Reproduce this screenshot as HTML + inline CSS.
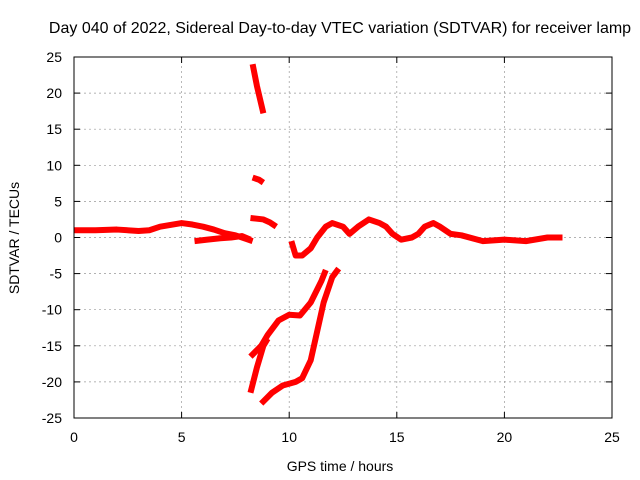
<!DOCTYPE html>
<html><head><meta charset="utf-8"><style>
body{margin:0;background:#fff}
svg{display:block;font-family:"Liberation Sans",sans-serif}
</style></head><body>
<svg id="chart" width="640" height="480">
<rect width="640" height="480" fill="#fff"/>
<text x="340" y="33" font-size="16" text-anchor="middle">Day 040 of 2022, Sidereal Day-to-day VTEC variation (SDTVAR) for receiver lamp</text>
<text x="340" y="471" font-size="14" text-anchor="middle">GPS time / hours</text>
<text transform="translate(19,238) rotate(-90)" font-size="14" text-anchor="middle">SDTVAR / TECUs</text>
<g id="grid"></g><g id="ticks"></g><g id="series"></g>
<rect x="74" y="57" width="538" height="361" fill="none" stroke="#000"/>
</svg>
<script>
const xTicks=[0,5,10,15,20,25];
const yTicks=[25,20,15,10,5,0,-5,-10,-15,-20,-25];
const seriesMainA=[[0,1],[1,1],[2,1.1],[3,0.9],[3.5,1],[4,1.5],[5,2],[5.5,1.8],[6,1.5],[6.5,1.1],[7,0.6],[7.5,0.3],[8,-0.2],[8.3,-0.5]];
const seriesMainB=[[5.6,-0.5],[6.2,-0.3],[6.8,-0.1],[7.3,0],[7.8,0.2],[8.2,-0.3]];
const seriesHigh=[[8.3,24],[8.5,21],[8.8,17.2]];
const seriesMid=[[8.3,8.3],[8.6,8],[8.8,7.6]];
const seriesLow=[[8.2,2.7],[8.8,2.5],[9.1,2.1],[9.4,1.5]];
const seriesMainC=[[10.1,-0.5],[10.3,-2.5],[10.6,-2.5],[11,-1.5],[11.3,0],[11.7,1.5],[12,2],[12.5,1.5],[12.8,0.5],[13.2,1.5],[13.7,2.5],[14.2,2],[14.5,1.5],[14.8,0.5],[15.2,-0.3],[15.7,0],[16,0.5],[16.3,1.5],[16.7,2],[17,1.5],[17.5,0.5],[18,0.3],[19,-0.5],[20,-0.3],[21,-0.5],[22,0],[22.7,0]];
const seriesDipA=[[8.2,-16.5],[8.7,-15],[9,-13.5],[9.5,-11.5],[10,-10.7],[10.5,-10.8],[11,-9],[11.5,-6],[11.7,-4.5]];
const seriesDipB=[[8.2,-21.5],[8.5,-18],[8.8,-15],[9,-14]];
const seriesDipC=[[8.7,-23],[9.2,-21.5],[9.7,-20.5],[10.3,-20],[10.6,-19.5],[11,-17],[11.3,-13],[11.6,-9],[12,-5.5],[12.3,-4.3]];
const allSeries=[seriesMainA,seriesMainB,seriesHigh,seriesMid,seriesLow,seriesMainC,seriesDipA,seriesDipB,seriesDipC];
const ns="http://www.w3.org/2000/svg";
const X0=74,X1=612,Y0=418,Y1=57;
const sx=v=>X0+(v-0)/(25-0)*(X1-X0);
const sy=v=>Y0-(v+25)/50*(Y0-Y1);
const grid=document.getElementById('grid'),ticks=document.getElementById('ticks'),ser=document.getElementById('series');
function mk(t,a,p){const e=document.createElementNS(ns,t);for(const k in a)e.setAttribute(k,a[k]);p.appendChild(e);return e;}
xTicks.forEach(v=>{const x=sx(v);
 const g=mk('line',{x1:x,x2:x,y1:Y0,y2:Y1,stroke:'#999','stroke-dasharray':'2,3','stroke-width':0.7},grid);
 
 
 mk('line',{x1:x,x2:x,y1:Y0,y2:Y0-6,stroke:'#000'},ticks);mk('line',{x1:x,x2:x,y1:Y1,y2:Y1+6,stroke:'#000'},ticks);
 const t=mk('text',{x:x,y:Y0+24,'font-size':14,'text-anchor':'middle'},ticks);t.textContent=v;
 
 });
yTicks.forEach(v=>{const y=sy(v);
 const g=mk('line',{x1:X0,x2:X1,y1:y,y2:y,stroke:'#999','stroke-dasharray':'2,3','stroke-width':0.7},grid);
 
 
 mk('line',{x1:X0,x2:X0+6,y1:y,y2:y,stroke:'#000'},ticks);mk('line',{x1:X1,x2:X1-6,y1:y,y2:y,stroke:'#000'},ticks);
 const t=mk('text',{x:X0-12,y:y+5,'font-size':14,'text-anchor':'end'},ticks);t.textContent=v;
 
 });
allSeries.forEach((s,i)=>{
 const p=mk('polyline',{points:s.map(d=>sx(d[0])+','+sy(d[1])).join(' '),fill:'none',stroke:'#f00','stroke-width':6,'stroke-linejoin':'round','stroke-linecap':'butt'},ser);
 
 
});
</script>
</body></html>
